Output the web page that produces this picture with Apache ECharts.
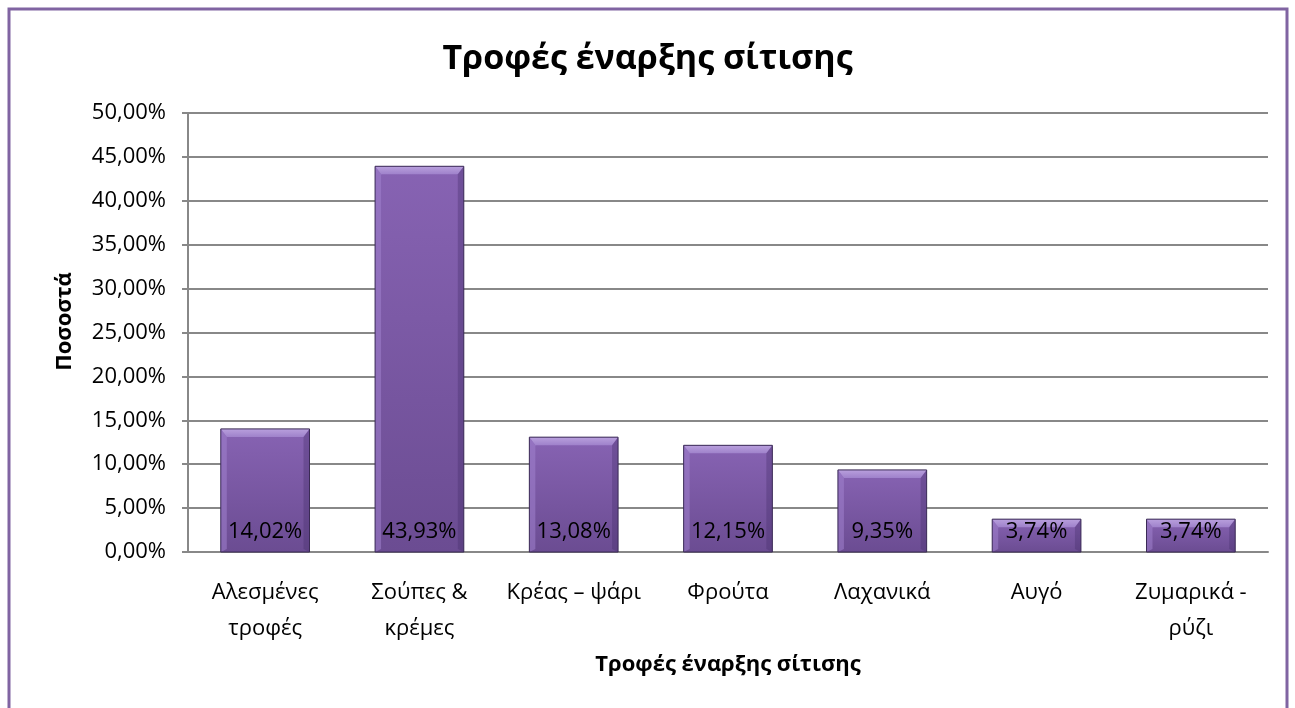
<!DOCTYPE html>
<html>
<head>
<meta charset="utf-8">
<script src="https://cdn.jsdelivr.net/npm/echarts@6/dist/echarts.min.js"></script>
<style>
  html, body { margin: 0; padding: 0; background: #ffffff; }
  #chart { width: 1295px; height: 708px; }
</style>
</head>
<body>
<div id="chart"></div>
<script>
// Food categories introduced at the start of feeding
const categories = [
  'Αλεσμένες\nτροφές',
  'Σούπες &\nκρέμες',
  'Κρέας – ψάρι',
  'Φρούτα',
  'Λαχανικά',
  'Αυγό',
  'Ζυμαρικά -\nρύζι'
];
// Share of each category (percent)
const percentages = [14.02, 43.93, 13.08, 12.15, 9.35, 3.74, 3.74];
// Y axis range (percent)
const yMin = 0;
const yMax = 50;
const yStep = 5;

const FONT = "'Open Sans', 'Noto Sans', sans-serif";
const fmt = v => v.toFixed(2).replace('.', ',') + '%';

const chart = echarts.init(document.getElementById('chart'));
const BAR_RATIO = 0.575;
const BAR_WIDTH = (BAR_RATIO * 100) + '%';

// Bevel overlay: light top edge, soft side edges, thin dark outline
function renderBevel(params, api) {
  const idx = api.value(0);
  const val = api.value(1);
  const top = api.coord([idx, val]);
  const base = api.coord([idx, 0]);
  const w = api.size([1, 0])[0] * BAR_RATIO;
  const x0 = top[0] - w / 2, x1 = top[0] + w / 2;
  const y0 = top[1], y1 = base[1];
  const h = y1 - y0;
  const b = Math.min(8, h / 2);
  const s = Math.min(6, w / 4);
  return {
    type: 'group',
    silent: true,
    children: [
      { type: 'polygon', shape: { points: [[x0, y0], [x1, y0], [x1 - s, y0 + b], [x0 + s, y0 + b]] },
        style: { fill: new echarts.graphic.LinearGradient(0, 0, 0, 1, [
          { offset: 0, color: '#b9a0dd' }, { offset: 1, color: '#9f82cb' }]) } },
      { type: 'polygon', shape: { points: [[x0, y0], [x0 + s, y0 + b], [x0 + s, y1 - Math.min(3, h / 4)], [x0, y1]] },
        style: { fill: 'rgba(160,130,205,0.55)' } },
      { type: 'polygon', shape: { points: [[x1, y0], [x1 - s, y0 + b], [x1 - s, y1 - Math.min(3, h / 4)], [x1, y1]] },
        style: { fill: 'rgba(70,45,105,0.35)' } },
      { type: 'rect', shape: { x: x0, y: y0, width: w, height: h },
        style: { fill: 'none', stroke: '#3a2a55', lineWidth: 1 } }
    ]
  };
}

const option = {
  backgroundColor: '#ffffff',
  animation: false,
  graphic: [{
    type: 'rect',
    shape: { x: 9, y: 9, width: 1278, height: 720 },
    style: { fill: 'none', stroke: '#8064a2', lineWidth: 3 },
    silent: true,
    z: 100
  }],
  title: {
    text: 'Τροφές έναρξης σίτισης',
    left: 'center',
    top: 37,
    textStyle: { fontFamily: FONT, fontSize: 34, fontWeight: 'bold', color: '#000000' }
  },
  grid: { left: 188, right: 27, top: 113, bottom: 156, containLabel: false },
  xAxis: {
    type: 'category',
    data: categories,
    name: 'Τροφές έναρξης σίτισης',
    nameLocation: 'middle',
    nameGap: 102,
    nameTextStyle: { fontFamily: FONT, fontSize: 22, fontWeight: 'bold', color: '#000000' },
    axisLine: { lineStyle: { color: '#888888', width: 2 } },
    axisTick: { show: false },
    axisLabel: { fontFamily: FONT, fontSize: 22, color: '#000000', margin: 23, lineHeight: 36, interval: 0 }
  },
  yAxis: {
    type: 'value',
    min: yMin,
    max: yMax,
    interval: yStep,
    name: 'Ποσοστά',
    nameLocation: 'middle',
    nameGap: 112,
    nameRotate: 90,
    nameTextStyle: { fontFamily: FONT, fontSize: 22, fontWeight: 'bold', color: '#000000', padding: [0, 0, 0, 22] },
    axisLine: { show: true, lineStyle: { color: '#888888', width: 2 } },
    axisTick: { show: true, length: 6, lineStyle: { color: '#888888', width: 2 } },
    splitLine: { lineStyle: { color: '#888888', width: 2 } },
    axisLabel: { fontFamily: FONT, fontSize: 22, color: '#000000', margin: 22, formatter: v => fmt(v) }
  },
  series: [
    {
      // bar faces
      type: 'bar',
      data: percentages,
      barWidth: BAR_WIDTH,
      itemStyle: {
        color: new echarts.graphic.LinearGradient(0, 0, 0, 1, [
          { offset: 0, color: '#8763b3' },
          { offset: 1, color: '#6b4c92' }
        ])
      },
      z: 2
    },
    {
      // bevel edges over the faces
      type: 'custom',
      renderItem: renderBevel,
      data: percentages.map((v, i) => [i, v]),
      encode: { x: 0, y: 1 },
      silent: true,
      z: 3
    },
    {
      // value labels on top of everything
      type: 'bar',
      data: percentages,
      barWidth: BAR_WIDTH,
      barGap: '-100%',
      silent: true,
      itemStyle: { color: 'rgba(0,0,0,0)' },
      label: {
        show: true,
        position: 'insideBottom',
        distance: 9,
        fontFamily: FONT,
        fontSize: 22,
        color: '#000000',
        formatter: p => fmt(p.value)
      },
      z: 4
    }
  ]
};
chart.setOption(option);
</script>
</body>
</html>
